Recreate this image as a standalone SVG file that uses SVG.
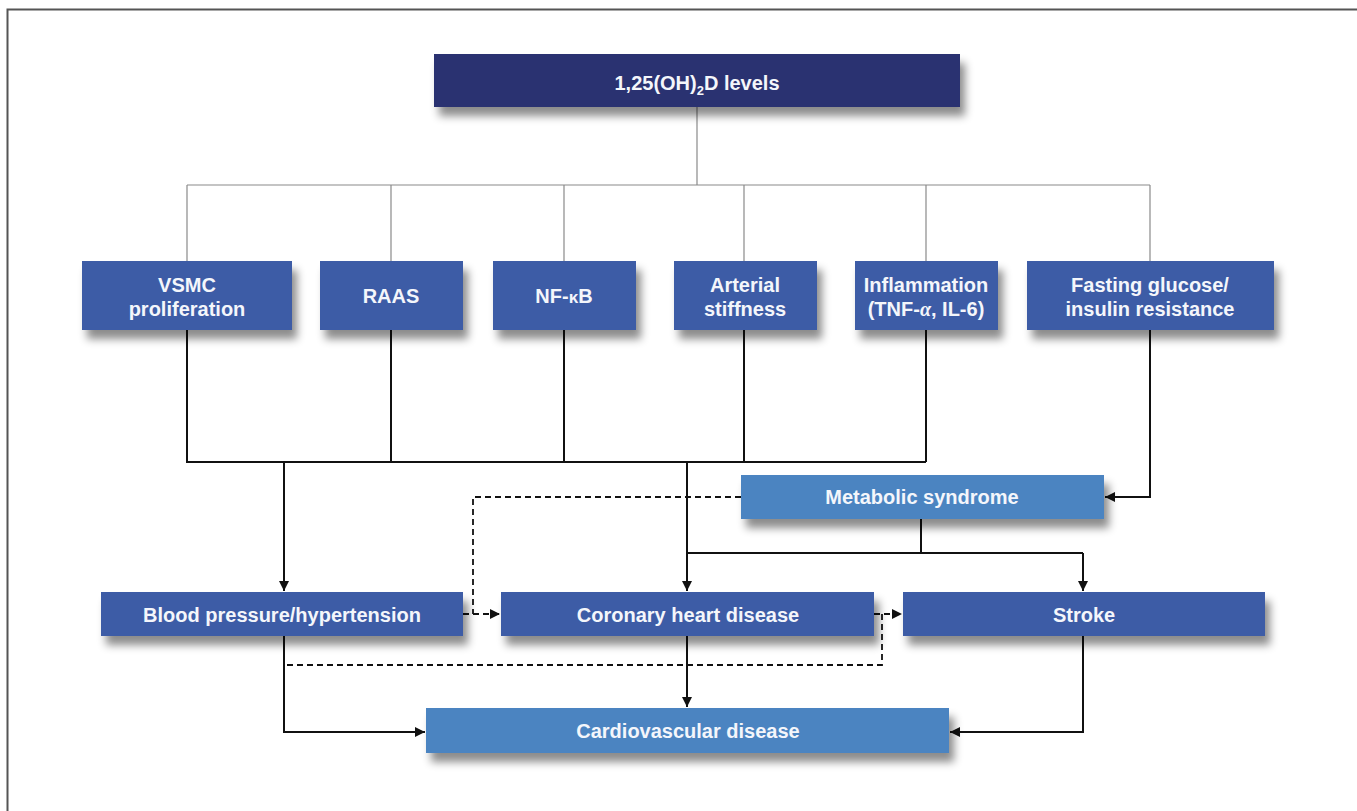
<svg xmlns="http://www.w3.org/2000/svg" width="1357" height="811" viewBox="0 0 1357 811">
<defs>
<style>
.t{font-family:"Liberation Sans",Arial,sans-serif;font-weight:bold;font-size:20px;fill:#f4f6fb;text-anchor:middle}
.dark{fill:#2a3271}
.mid{fill:#3c5ba6}
.light{fill:#4c84c1}
.g{stroke:#8a8a8a;stroke-width:1.2;fill:none}
.k{stroke:#111;stroke-width:2;fill:none}
.d{stroke:#111;stroke-width:1.8;fill:none;stroke-dasharray:6 4}
</style>
<filter id="sh" x="-10%" y="-30%" width="125%" height="190%">
<feDropShadow dx="5" dy="9" stdDeviation="4.5" flood-color="#000" flood-opacity="0.45"/>
</filter>
<marker id="a" viewBox="0 0 10 10" refX="10" refY="5" markerWidth="10" markerHeight="10" markerUnits="userSpaceOnUse" orient="auto">
<path d="M0,0 L10,5 L0,10 z" fill="#111"/>
</marker>
</defs>
<rect width="1357" height="811" fill="#fff"/>
<path d="M7.5,811 V9.5 H1357" fill="none" stroke="#555" stroke-width="2"/>

<g id="connectors">
<path class="g" d="M697,107 V185 M187,185 H1150 M187,185 V261 M391,185 V261 M564,185 V261 M744,185 V261 M926,185 V261 M1150,185 V261"/>
<path class="k" d="M187,330 V462 H926 M391,330 V462 M564,330 V462 M744,330 V462 M926,330 V462"/>
<path class="k" d="M284,462 V591" marker-end="url(#a)"/>
<path class="k" d="M687,462 V591" marker-end="url(#a)"/>
<path class="k" d="M1150,330 V497 H1105" marker-end="url(#a)"/>
<path class="k" d="M921,519 V553 H687 M921,553 H1083"/>
<path class="k" d="M1083,553 V591" marker-end="url(#a)"/>
<path class="d" d="M741,497 H473 V614"/>
<path class="d" d="M463,614 H500" marker-end="url(#a)"/>
<path class="d" d="M874,614 H902" marker-end="url(#a)"/>
<path class="d" d="M882,614 V665 H284"/>
<path class="k" d="M284,636 V732 H425" marker-end="url(#a)"/>
<path class="k" d="M687,636 V707" marker-end="url(#a)"/>
<path class="k" d="M1083,636 V732 H950" marker-end="url(#a)"/>
</g>

<g id="n-vitd"><rect class="dark" x="434" y="54" width="526" height="53" filter="url(#sh)"/><text class="t" x="697" y="90">1,25(OH)<tspan font-size="13" dy="5">2</tspan><tspan dy="-5">D levels</tspan></text></g>

<g id="n-vsmc"><rect class="mid" x="82" y="261" width="210" height="69" filter="url(#sh)"/><text class="t" x="187" y="292">VSMC</text><text class="t" x="187" y="316">proliferation</text></g>
<g id="n-raas"><rect class="mid" x="320" y="261" width="143" height="69" filter="url(#sh)"/><text class="t" x="391" y="303">RAAS</text></g>
<g id="n-nfkb"><rect class="mid" x="493" y="261" width="143" height="69" filter="url(#sh)"/><text class="t" x="564" y="303">NF-<tspan font-size="17">κ</tspan>B</text></g>
<g id="n-arterial"><rect class="mid" x="674" y="261" width="143" height="69" filter="url(#sh)"/><text class="t" x="745" y="292">Arterial</text><text class="t" x="745" y="316">stiffness</text></g>
<g id="n-inflam"><rect class="mid" x="855" y="261" width="143" height="69" filter="url(#sh)"/><text class="t" x="926" y="292">Inflammation</text><text class="t" x="926" y="316">(TNF-<tspan font-family="Liberation Serif,serif" font-style="italic">α</tspan>, IL-6)</text></g>
<g id="n-fasting"><rect class="mid" x="1027" y="261" width="247" height="69" filter="url(#sh)"/><text class="t" x="1150" y="292">Fasting glucose/</text><text class="t" x="1150" y="316">insulin resistance</text></g>

<g id="n-metabolic"><rect class="light" x="741" y="475" width="363" height="44" filter="url(#sh)"/><text class="t" x="922" y="504">Metabolic syndrome</text></g>

<g id="n-bp"><rect class="mid" x="101" y="592" width="362" height="44" filter="url(#sh)"/><text class="t" x="282" y="622">Blood pressure/hypertension</text></g>
<g id="n-chd"><rect class="mid" x="501" y="592" width="373" height="44" filter="url(#sh)"/><text class="t" x="688" y="622">Coronary heart disease</text></g>
<g id="n-stroke"><rect class="mid" x="903" y="592" width="362" height="44" filter="url(#sh)"/><text class="t" x="1084" y="622">Stroke</text></g>

<g id="n-cvd"><rect class="light" x="426" y="708" width="523" height="45" filter="url(#sh)"/><text class="t" x="688" y="738">Cardiovascular disease</text></g>
</svg>
